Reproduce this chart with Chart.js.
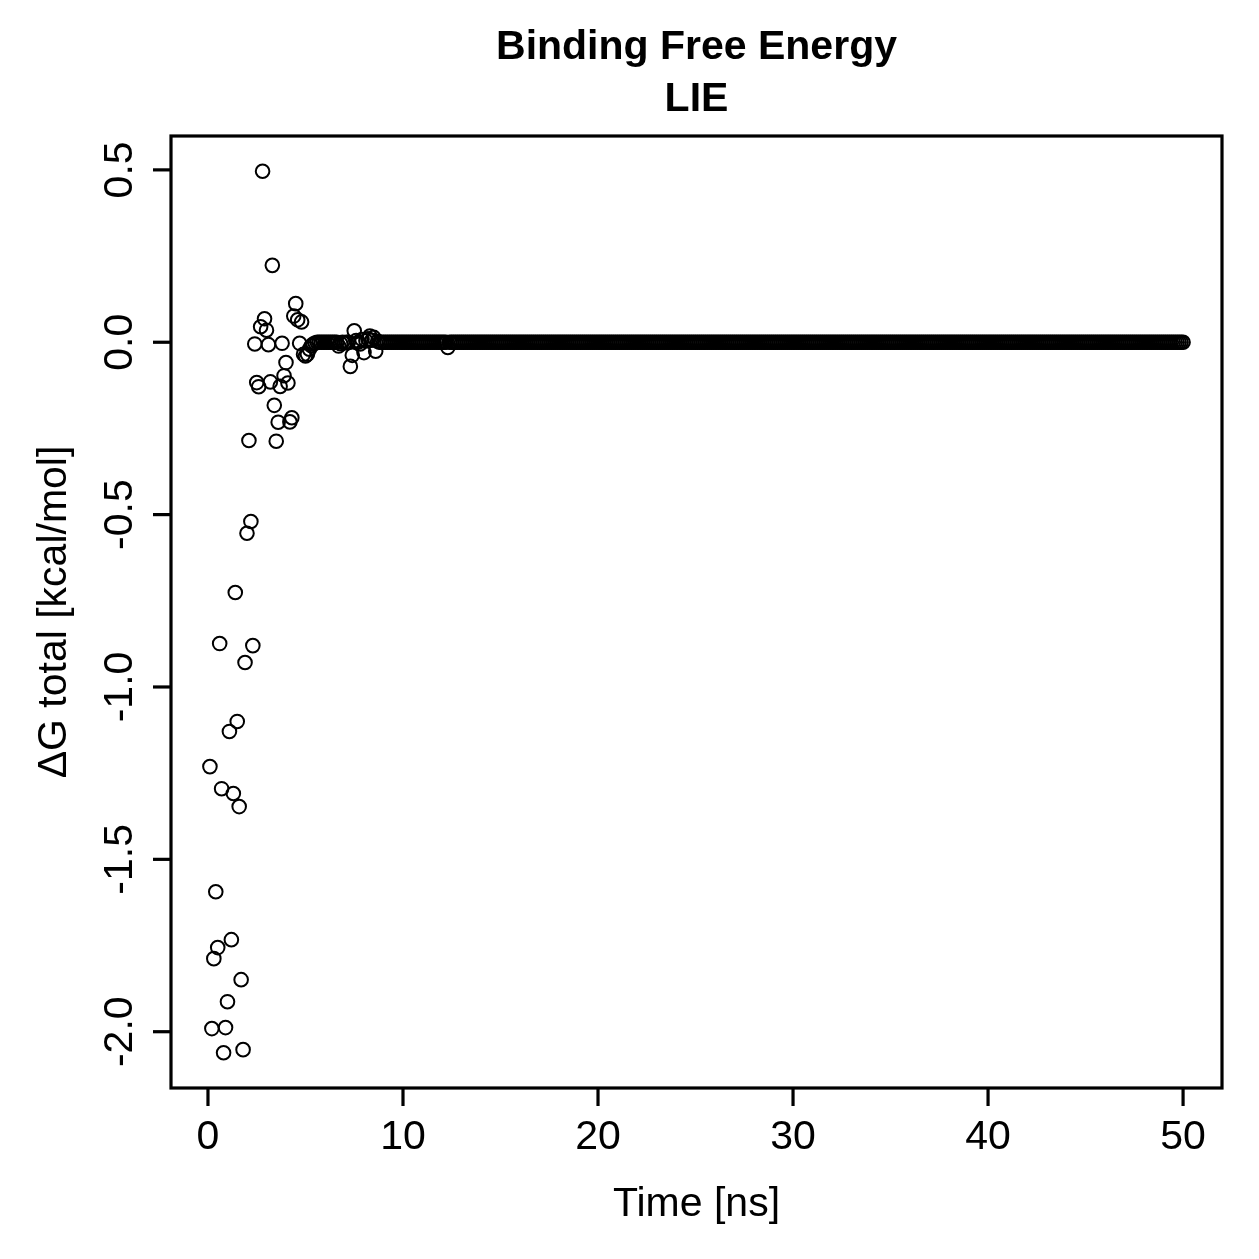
<!DOCTYPE html>
<html>
<head>
<meta charset="utf-8">
<title>Binding Free Energy - LIE</title>
<script src="https://cdn.jsdelivr.net/npm/chart.js@4.4.1/dist/chart.umd.min.js"></script>
<style>
  html, body { margin: 0; padding: 0; background: #ffffff; }
  #wrap { width: 1259px; height: 1259px; }
</style>
</head>
<body>
<div id="wrap"><canvas id="lieChart" width="1259" height="1259"></canvas></div>
<script>
// Sampling step of the trajectory (ns); first frame at 0.1 ns
const TIME_STEP = 0.1;

// dG total per frame [kcal/mol], one line = 1 ns (10 frames)
const deltaG = [
  -1.231, -1.991, -1.788, -1.594, -1.756, -0.874, -1.295, -2.061, -1.988, -1.913,
  -1.129, -1.733, -1.309, -0.726, -1.100, -1.347, -1.849, -2.052, -0.929, -0.554,
  -0.285, -0.520, -0.880, -0.005, -0.117, -0.129, 0.045, 0.496, 0.068, 0.035,
  -0.007, -0.115, 0.223, -0.183, -0.287, -0.232, -0.128, -0.003, -0.097, -0.059,
  -0.118, -0.231, -0.219, 0.076, 0.112, 0.065, -0.003, 0.059, -0.035, -0.040,
  -0.035, -0.020, -0.010, -0.005, -0.002, 0, 0, 0, 0, 0,
  0, 0, 0, 0, 0, 0, -0.011, -0.004, 0, -0.002,
  0, 0, -0.070, -0.038, 0.033, 0.005, 0, -0.005, 0.008, -0.030,
  0.004, 0.010, 0.018, 0.006, 0.014, -0.026, 0.003, 0, 0, 0,
  0, 0, 0, 0, 0, 0, 0, 0, 0, 0,
  0, 0, 0, 0, 0, 0, 0, 0, 0, 0,
  0, 0, 0, 0, 0, 0, 0, 0, 0, 0,
  0, 0, -0.015, 0, 0, 0, 0, 0, 0, 0,
  0, 0, 0, 0, 0, 0, 0, 0, 0, 0,
  0, 0, 0, 0, 0, 0, 0, 0, 0, 0,
  0, 0, 0, 0, 0, 0, 0, 0, 0, 0,
  0, 0, 0, 0, 0, 0, 0, 0, 0, 0,
  0, 0, 0, 0, 0, 0, 0, 0, 0, 0,
  0, 0, 0, 0, 0, 0, 0, 0, 0, 0,
  0, 0, 0, 0, 0, 0, 0, 0, 0, 0,
  0, 0, 0, 0, 0, 0, 0, 0, 0, 0,
  0, 0, 0, 0, 0, 0, 0, 0, 0, 0,
  0, 0, 0, 0, 0, 0, 0, 0, 0, 0,
  0, 0, 0, 0, 0, 0, 0, 0, 0, 0,
  0, 0, 0, 0, 0, 0, 0, 0, 0, 0,
  0, 0, 0, 0, 0, 0, 0, 0, 0, 0,
  0, 0, 0, 0, 0, 0, 0, 0, 0, 0,
  0, 0, 0, 0, 0, 0, 0, 0, 0, 0,
  0, 0, 0, 0, 0, 0, 0, 0, 0, 0,
  0, 0, 0, 0, 0, 0, 0, 0, 0, 0,
  0, 0, 0, 0, 0, 0, 0, 0, 0, 0,
  0, 0, 0, 0, 0, 0, 0, 0, 0, 0,
  0, 0, 0, 0, 0, 0, 0, 0, 0, 0,
  0, 0, 0, 0, 0, 0, 0, 0, 0, 0,
  0, 0, 0, 0, 0, 0, 0, 0, 0, 0,
  0, 0, 0, 0, 0, 0, 0, 0, 0, 0,
  0, 0, 0, 0, 0, 0, 0, 0, 0, 0,
  0, 0, 0, 0, 0, 0, 0, 0, 0, 0,
  0, 0, 0, 0, 0, 0, 0, 0, 0, 0,
  0, 0, 0, 0, 0, 0, 0, 0, 0, 0,
  0, 0, 0, 0, 0, 0, 0, 0, 0, 0,
  0, 0, 0, 0, 0, 0, 0, 0, 0, 0,
  0, 0, 0, 0, 0, 0, 0, 0, 0, 0,
  0, 0, 0, 0, 0, 0, 0, 0, 0, 0,
  0, 0, 0, 0, 0, 0, 0, 0, 0, 0,
  0, 0, 0, 0, 0, 0, 0, 0, 0, 0,
  0, 0, 0, 0, 0, 0, 0, 0, 0, 0,
  0, 0, 0, 0, 0, 0, 0, 0, 0, 0,
  0, 0, 0, 0, 0, 0, 0, 0, 0, 0,
  0, 0, 0, 0, 0, 0, 0, 0, 0, 0
];

// Axis ticks and labels
const xTicks = [0, 10, 20, 30, 40, 50];
const xTickLabels = ['0', '10', '20', '30', '40', '50'];
const yTicks = [-2.0, -1.5, -1.0, -0.5, 0.0, 0.5];
const yTickLabels = ['-2.0', '-1.5', '-1.0', '-0.5', '0.0', '0.5'];

const titleLines = ['Binding Free Energy', 'LIE'];
const xTitle = 'Time [ns]';
const yTitle = '\u0394G total [kcal/mol]';

const FONT = '"Liberation Sans", Arial, Helvetica, sans-serif';

// Build points (time from frame index)
const points = deltaG.map((v, i) => ({ x: Math.round((i + 1) * TIME_STEP * 10) / 10, y: v }));

// R style axis range: data range extended by 4% on each side
function paddedRange(vals) {
  const lo = Math.min(...vals);
  const hi = Math.max(...vals);
  const pad = (hi - lo) * 0.04;
  return [lo - pad, hi + pad];
}
const [xMin, xMax] = paddedRange(points.map(p => p.x));
const [yMin, yMax] = paddedRange(deltaG);

// Draw box, ticks, labels and titles like base R graphics
const rAxesPlugin = {
  id: 'rAxes',
  afterDraw(chart) {
    const { ctx, chartArea: a, scales } = chart;
    const tickLen = 18;
    ctx.save();
    ctx.strokeStyle = '#000';
    ctx.fillStyle = '#000';
    ctx.lineWidth = 3.2;
    ctx.lineCap = 'butt';

    // plot box
    ctx.strokeRect(a.left, a.top, a.right - a.left, a.bottom - a.top);

    ctx.font = '41px ' + FONT;

    // x axis
    xTicks.forEach((t, i) => {
      const px = scales.x.getPixelForValue(t);
      ctx.beginPath();
      ctx.moveTo(px, a.bottom);
      ctx.lineTo(px, a.bottom + tickLen);
      ctx.stroke();
      ctx.textAlign = 'center';
      ctx.textBaseline = 'alphabetic';
      ctx.fillText(xTickLabels[i], px, a.bottom + 61);
    });

    // y axis
    yTicks.forEach((t, i) => {
      const py = scales.y.getPixelForValue(t);
      ctx.beginPath();
      ctx.moveTo(a.left, py);
      ctx.lineTo(a.left - tickLen, py);
      ctx.stroke();
      ctx.save();
      ctx.translate(a.left - 39, py);
      ctx.rotate(-Math.PI / 2);
      ctx.textAlign = 'center';
      ctx.textBaseline = 'alphabetic';
      ctx.fillText(yTickLabels[i], 0, 0);
      ctx.restore();
    });

    // axis titles
    const midX = (a.left + a.right) / 2;
    const midY = (a.top + a.bottom) / 2;
    ctx.textAlign = 'center';
    ctx.textBaseline = 'alphabetic';
    ctx.fillText(xTitle, midX, a.bottom + 128);

    ctx.save();
    ctx.translate(a.left - 105, midY);
    ctx.rotate(-Math.PI / 2);
    ctx.fillText(yTitle, 0, 0);
    ctx.restore();

    // main title (two lines, bold)
    ctx.font = 'bold 41px ' + FONT;
    ctx.fillText(titleLines[0], midX, 59);
    ctx.fillText(titleLines[1], midX, 111);

    ctx.restore();
  }
};

const ctx = document.getElementById('lieChart').getContext('2d');
const chartInstance = new Chart(ctx, {
  type: 'scatter',
  data: {
    datasets: [{
      label: 'dG total',
      data: points,
      pointStyle: 'circle',
      pointRadius: 6.8,
      pointBorderWidth: 2,
      pointBorderColor: '#000000',
      pointBackgroundColor: 'rgba(0,0,0,0)',
      showLine: false
    }]
  },
  options: {
    responsive: false,
    animation: false,
    devicePixelRatio: 1,
    layout: {
      padding: { left: 171, top: 136, right: 37, bottom: 171 }
    },
    plugins: {
      legend: { display: false },
      tooltip: { enabled: false },
      title: { display: false }
    },
    scales: {
      x: { type: 'linear', min: xMin, max: xMax, display: false },
      y: { type: 'linear', min: yMin, max: yMax, display: false }
    }
  },
  plugins: [rAxesPlugin]
});
</script>
</body>
</html>
